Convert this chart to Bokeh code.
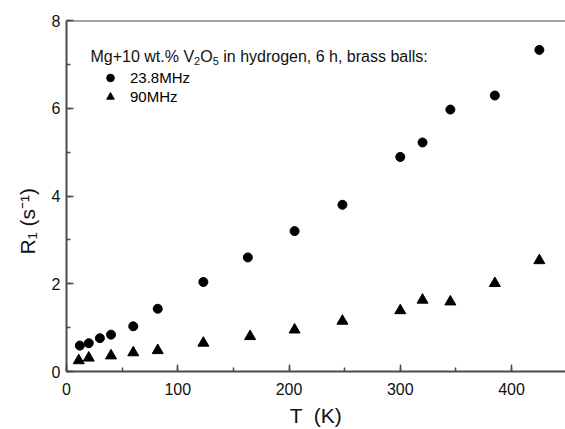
from bokeh.plotting import figure
from bokeh.models import Range1d, SingleIntervalTicker, Label, Span, Legend, LegendItem, Title
from bokeh.embed import file_html
from bokeh.resources import INLINE

# ---- data ----
circ_T = [12, 20, 30, 40, 60, 82, 123, 163, 205, 248, 300, 320, 345, 385, 425]
circ_R = [0.59, 0.645, 0.76, 0.84, 1.03, 1.43, 2.04, 2.60, 3.20, 3.80, 4.89, 5.22, 5.97, 6.29, 7.33]
tri_T = [11, 20, 40, 60, 82, 123, 165, 205, 248, 300, 320, 345, 385, 425]
tri_R = [0.25, 0.31, 0.36, 0.43, 0.48, 0.65, 0.80, 0.95, 1.15, 1.39, 1.63, 1.59, 2.01, 2.53]
series_labels = ["23.8MHz", "90MHz"]

FONT = "Liberation Sans"
X0, X1 = 0, 448.5
Y0, Y1 = 0, 8

FL, FT, FW, FH = 66, 20, 499, 351  # frame left/top, width, height
FB = 58

p = figure(width=FL + FW, height=FT + FH + FB, output_backend="svg", toolbar_location=None,
           x_range=Range1d(X0, X1), y_range=Range1d(Y0, Y1),
           min_border_left=FL, min_border_top=FT, min_border_right=0, min_border_bottom=FB,
           frame_width=FW, frame_height=FH)
p.outline_line_color = None
p.xgrid.visible = False
p.ygrid.visible = False
p.background_fill_color = "white"
p.border_fill_color = "white"

# pixel to data helpers (text placement only)
def dx(px):
    return (px - FL) * (X1 - X0) / FW + X0

def dy(py):
    return (FT + FH - py) * (Y1 - Y0) / FH + Y0

AX = "#4a4a4a"
p.xaxis.ticker = SingleIntervalTicker(interval=100, num_minor_ticks=2)
p.yaxis.ticker = SingleIntervalTicker(interval=2, num_minor_ticks=2)
for ax in (p.xaxis[0], p.yaxis[0]):
    ax.axis_line_color = AX
    ax.axis_line_width = 2
    ax.major_tick_line_color = AX
    ax.minor_tick_line_color = AX
    ax.major_tick_line_width = 1.5
    ax.minor_tick_line_width = 1.5
    ax.major_tick_in = 7
    ax.major_tick_out = 0
    ax.minor_tick_in = 4
    ax.minor_tick_out = 0
    ax.major_label_text_font = FONT
    ax.major_label_text_font_size = "16px"
    ax.major_label_text_color = "#111111"
    ax.axis_label_text_font = FONT
    ax.axis_label_text_font_size = "21px"
    ax.axis_label_text_font_style = "normal"
    ax.axis_label_text_color = "#111111"
p.xaxis.major_label_standoff = 11
p.yaxis.major_label_standoff = 6
p.xaxis.axis_label = "T \u00a0(K)"
p.xaxis.axis_label_standoff = 6

p.add_layout(Span(location=Y1, dimension="width", line_color=AX, line_width=2))

r1 = p.scatter(circ_T, circ_R, marker="circle", size=9, color="black")
r2 = p.scatter(tri_T, tri_R, marker="triangle", size=11, color="black")

legend = Legend(items=[LegendItem(label=series_labels[0], renderers=[r1]),
                       LegendItem(label=series_labels[1], renderers=[r2])],
                location=(24, 265), padding=0, margin=0, spacing=0,
                glyph_width=40, glyph_height=19, label_height=19, label_standoff=0,
                border_line_color=None, background_fill_alpha=0,
                label_text_font=FONT, label_text_font_size="15px", label_text_color="black")
p.add_layout(legend)

def lab(text, px, py, size):
    p.add_layout(Label(x=dx(px), y=dy(py), text=text,
                       text_font=FONT, text_font_size=f"{size}px", text_color="#111111",
                       text_align="left", text_baseline="alphabetic"))

def w(units, size):
    return units * size / 1000.0

# title line: Mg+10 wt.% V2O5 in hydrogen, 6 h, brass balls:
BL = 56
x = 90.0
lab("Mg+10 wt.% V", x, BL, 16); x += w(6475, 16)
lab("2", x, BL + 4, 11); x += w(556, 11)
lab("O", x, BL, 16); x += w(778, 16)
lab("5", x, BL + 4, 11); x += w(556, 11) + w(278, 16)
lab("in hydrogen, 6 h, brass balls:", x, BL, 16)

# y axis label as a side title
ytitle = Title(text="R\u2081 (s\u207b\u00b9)", align="left", offset=117,
               vertical_align="top",
               text_font=FONT, text_font_size="21px", text_font_style="normal",
               text_color="#111111", standoff=16)
p.add_layout(ytitle, "left")

open("out.html", "w").write(file_html(p, INLINE))
